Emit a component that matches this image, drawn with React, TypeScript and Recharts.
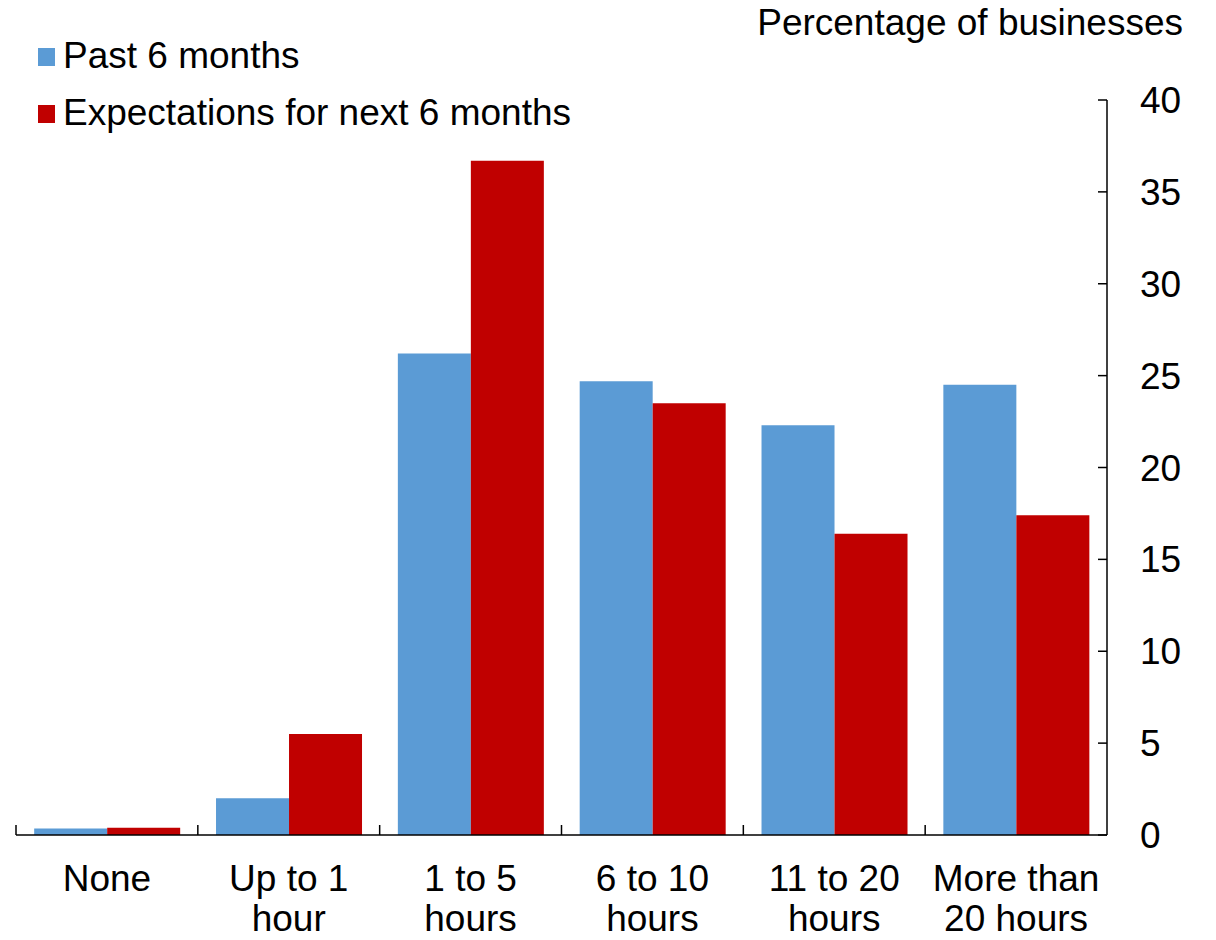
import { BarChart, Bar, XAxis, YAxis } from "recharts";

const categories = ["None", "Up to 1\nhour", "1 to 5\nhours", "6 to 10\nhours", "11 to 20\nhours", "More than\n20 hours"];
const pastValues = [0.35, 2.0, 26.2, 24.7, 22.3, 24.5];
const nextValues = [0.4, 5.5, 36.7, 23.5, 16.4, 17.4];
const yTicks = [0, 5, 10, 15, 20, 25, 30, 35, 40];
const seriesNames = ["Past 6 months", "Expectations for next 6 months"];
const seriesColors = ["#5B9BD5", "#C00000"];

const data = categories.map((name, i) => ({ name, past: pastValues[i], next: nextValues[i] }));

const W = 1216;
const H = 940;
const MARGIN = { top: 100, right: 0, left: 16, bottom: 0 };
const Y_W = 109;
const X_H = 105;
const BAND = (W - MARGIN.left - MARGIN.right - Y_W) / categories.length;
const FONT = '"Liberation Sans", Arial, sans-serif';
const FS = 37;
const Y_MARGIN = 33;

const XTick = (props: any) => {
  const { x, y, payload } = props;
  const lines = String(payload.value).split("\n");
  const bx = x - BAND / 2;
  return (
    <g>
      <line x1={bx} y1={y} x2={bx} y2={y - 10} stroke="#000" strokeWidth={1.5} />
      <text x={x} y={y + 56} textAnchor="middle" fontFamily={FONT} fontSize={FS} fill="#000">
        {lines.map((l, i) => (
          <tspan key={i} x={x} dy={i === 0 ? 0 : 40}>
            {l}
          </tspan>
        ))}
      </text>
    </g>
  );
};

const YTick = (props: any) => {
  const { x, y, payload } = props;
  const ax = x - Y_MARGIN;
  return (
    <g>
      <line x1={ax} y1={y} x2={ax - 9} y2={y} stroke="#000" strokeWidth={1.5} />
      <text x={x} y={y + 13} textAnchor="start" fontFamily={FONT} fontSize={FS} fill="#000">
        {payload.value}
      </text>
    </g>
  );
};

export default function App() {
  return (
    <div style={{ position: "absolute", left: 0, top: 0, width: W, height: H, background: "#fff", fontFamily: FONT }}>
      <BarChart width={W} height={H} data={data} margin={MARGIN} barCategoryGap="10%" barGap={0}>
        <XAxis
          dataKey="name"
          height={X_H}
          interval={0}
          tickSize={0}
          tickMargin={0}
          tickLine={false}
          axisLine={{ stroke: "#000", strokeWidth: 1.5 }}
          tick={(p: any) => <XTick {...p} />}
        />
        <YAxis
          orientation="right"
          width={Y_W}
          domain={[0, 40]}
          ticks={yTicks}
          interval={0}
          tickSize={0}
          tickMargin={Y_MARGIN}
          tickLine={false}
          axisLine={{ stroke: "#000", strokeWidth: 1.5 }}
          tick={(p: any) => <YTick {...p} />}
        />
        <Bar dataKey="past" name={seriesNames[0]} fill={seriesColors[0]} isAnimationActive={false} />
        <Bar dataKey="next" name={seriesNames[1]} fill={seriesColors[1]} isAnimationActive={false} />
      </BarChart>
      <div
        style={{ position: "absolute", right: W - 1183, top: 3.7, fontSize: FS, lineHeight: `${FS}px`, color: "#000", whiteSpace: "nowrap" }}
      >
        Percentage of businesses
      </div>
      {seriesNames.map((n, i) => (
        <div
          key={n}
          style={{
            position: "absolute",
            left: 38,
            top: 37 + i * 57,
            height: FS,
            display: "flex",
            alignItems: "center",
            fontSize: FS,
            lineHeight: `${FS}px`,
            color: "#000",
            whiteSpace: "nowrap",
          }}
        >
          <span style={{ display: "inline-block", width: 17, height: 18, marginTop: 3, marginRight: 8, background: seriesColors[i] }} />
          <span>{n}</span>
        </div>
      ))}
    </div>
  );
}
